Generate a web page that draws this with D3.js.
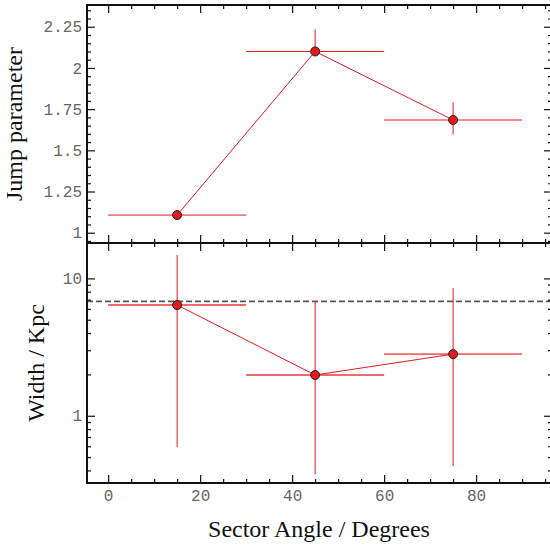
<!DOCTYPE html>
<html>
<head>
<meta charset="utf-8">
<script src="https://cdn.jsdelivr.net/npm/d3@7"></script>
<style>
  html,body{margin:0;padding:0;background:#fff;}
  svg{display:block;}
  .tick text{font-family:"Liberation Mono","DejaVu Sans Mono",monospace;font-size:16px;fill:#666;}
  .title{font-family:"Liberation Serif","Times New Roman",serif;font-size:24px;fill:#111;}
</style>
</head>
<body>
<svg id="chart" width="550" height="548"></svg>
<script>
// sector bins (degrees)
const sectorMid = [15, 45, 75];
const sectorLo = [0, 30, 60];
const sectorHi = [30, 60, 90];

// top panel: jump parameter
const jump = [1.107, 2.10, 1.684];
const jumpLo = [1.107, 2.09, 1.597];
const jumpHi = [1.107, 2.234, 1.79];

// bottom panel: width in kpc
const widthKpc = [6.4, 1.98, 2.81];
const widthLo = [0.59, 0.374, 0.43];
const widthHi = [14.8, 6.8, 8.5];
const refWidth = 6.8;

const xTicks = [0, 20, 40, 60, 80];
const xMinor = [5, 10, 15, 25, 30, 35, 45, 50, 55, 65, 70, 75, 85, 90, 95];
const jumpTicks = [1, 1.25, 1.5, 1.75, 2, 2.25];
const jumpMinor = d3.range(0.95, 2.38, 0.05).map(v => +v.toFixed(2)).filter(v => !jumpTicks.includes(v));
const widthTicks = [1, 10];
const widthMinor = [0.4, 0.5, 0.6, 0.7, 0.8, 0.9, 2, 3, 4, 5, 6, 7, 8, 9];

const svg = d3.select('#chart');
const L = 87, R = 552, T = 5, MID = 243, B = 483;
const RED = '#e3191e';

const x = d3.scaleLinear().domain([-4.6, 96.5]).range([L, R]);
const yTop = d3.scaleLinear().domain([0.9375, 2.382]).range([MID, T]);
const yBot = d3.scaleLog().domain([0.324, 18.1]).range([B, MID]);

function styleAxis(g){
  g.select('.domain').remove();
  g.selectAll('.tick line').attr('stroke', '#111').attr('stroke-width', 1.2);
}

function drawFrame(yScale, yMajor, yMinor, top, bottom, yFmt, showX){
  // left axis, ticks inward
  svg.append('g').attr('transform', `translate(${L},0)`)
    .call(d3.axisLeft(yScale).tickValues(yMajor).tickSizeInner(-8).tickSizeOuter(0).tickPadding(5).tickFormat(yFmt))
    .call(styleAxis);
  svg.append('g').attr('transform', `translate(${L},0)`)
    .call(d3.axisLeft(yScale).tickValues(yMinor).tickSizeInner(-4).tickSizeOuter(0).tickFormat(''))
    .call(styleAxis);
  // right axis, ticks inward
  svg.append('g').attr('transform', `translate(${R},0)`)
    .call(d3.axisRight(yScale).tickValues(yMajor).tickSizeInner(-8).tickSizeOuter(0).tickFormat(''))
    .call(styleAxis);
  svg.append('g').attr('transform', `translate(${R},0)`)
    .call(d3.axisRight(yScale).tickValues(yMinor).tickSizeInner(-4).tickSizeOuter(0).tickFormat(''))
    .call(styleAxis);
  // top ticks pointing down
  svg.append('g').attr('transform', `translate(0,${top})`)
    .call(d3.axisTop(x).tickValues(xTicks).tickSizeInner(-8).tickSizeOuter(0).tickFormat(''))
    .call(styleAxis);
  svg.append('g').attr('transform', `translate(0,${top})`)
    .call(d3.axisTop(x).tickValues(xMinor).tickSizeInner(-4).tickSizeOuter(0).tickFormat(''))
    .call(styleAxis);
  // bottom ticks pointing up
  svg.append('g').attr('transform', `translate(0,${bottom})`)
    .call(d3.axisBottom(x).tickValues(xTicks).tickSizeInner(-8).tickSizeOuter(0).tickPadding(7).tickFormat(showX ? d3.format('d') : ''))
    .call(styleAxis);
  svg.append('g').attr('transform', `translate(0,${bottom})`)
    .call(d3.axisBottom(x).tickValues(xMinor).tickSizeInner(-4).tickSizeOuter(0).tickFormat(''))
    .call(styleAxis);
  // spines
  svg.append('rect').attr('x', L).attr('y', top).attr('width', R - L).attr('height', bottom - top)
    .attr('fill', 'none').attr('stroke', '#111').attr('stroke-width', 2);
}

function drawSeries(yScale, vals, lo, hi, hBarStyle){
  const g = svg.append('g');
  // horizontal bars (sector widths)
  g.selectAll('line.hbar').data(vals).join('line').attr('class', 'hbar')
    .attr('x1', (d, i) => x(sectorLo[i])).attr('x2', (d, i) => x(sectorHi[i]))
    .attr('y1', d => yScale(d)).attr('y2', d => yScale(d))
    .attr('stroke', hBarStyle.color).attr('stroke-width', hBarStyle.width);
  // vertical error bars
  g.selectAll('line.vbar').data(vals).join('line').attr('class', 'vbar')
    .attr('x1', (d, i) => x(sectorMid[i])).attr('x2', (d, i) => x(sectorMid[i]))
    .attr('y1', (d, i) => yScale(lo[i])).attr('y2', (d, i) => yScale(hi[i]))
    .attr('stroke', RED).attr('stroke-width', 1);
  // connecting line
  g.append('path').datum(vals)
    .attr('d', d3.line().x((d, i) => x(sectorMid[i])).y(d => yScale(d)))
    .attr('fill', 'none').attr('stroke', RED).attr('stroke-width', 1);
  // markers
  g.selectAll('circle').data(vals).join('circle')
    .attr('cx', (d, i) => x(sectorMid[i])).attr('cy', d => yScale(d)).attr('r', 4.5)
    .attr('fill', RED).attr('stroke', '#222').attr('stroke-width', 1);
}

// top panel
drawSeries(yTop, jump, jumpLo, jumpHi, { color: RED, width: 1 });
drawFrame(yTop, jumpTicks, jumpMinor, T, MID, d => String(d), false);

// bottom panel
svg.append('line').attr('x1', L).attr('x2', R).attr('y1', yBot(refWidth)).attr('y2', yBot(refWidth))
  .attr('stroke', '#555').attr('stroke-width', 1.6).attr('stroke-dasharray', '6,3');
drawSeries(yBot, widthKpc, widthLo, widthHi, { color: '#ef6a6a', width: 1.8 });
drawFrame(yBot, widthTicks, widthMinor, MID, B, d => String(d), true);

// titles
svg.append('text').attr('class', 'title').attr('text-anchor', 'middle')
  .attr('transform', `translate(22,${(T + MID) / 2}) rotate(-90)`).text('Jump parameter');
svg.append('text').attr('class', 'title').attr('text-anchor', 'middle')
  .attr('transform', `translate(44,${(MID + B) / 2}) rotate(-90)`).text('Width / Kpc');
svg.append('text').attr('class', 'title').attr('text-anchor', 'middle')
  .attr('x', 319).attr('y', 537).text('Sector Angle / Degrees');
</script>
</body>
</html>
